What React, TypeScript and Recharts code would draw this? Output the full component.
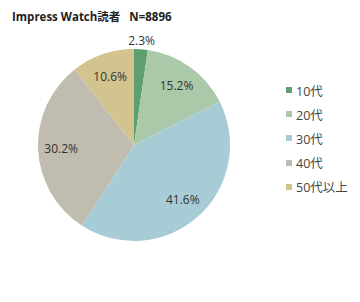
import React from 'react';
import { PieChart, Pie, Cell } from 'recharts';

const categories = ['10代', '20代', '30代', '40代', '50代以上'];
const shares = [2.3, 15.2, 41.6, 30.2, 10.6];
const colors = ['#5f9e6e', '#abc9a8', '#a8ccd6', '#c0bcb0', '#d3c48f'];

const data = categories.map((name, i) => ({ name, value: shares[i] }));

const RAD = Math.PI / 180;
const FONT = '"Open Sans", "Noto Sans CJK JP", sans-serif';

// percent labels: small slice sits outside, the rest inside
const renderLabel = ({ cx, cy, midAngle, outerRadius, index }: any) => {
  const r = shares[index] < 5 ? outerRadius + 9 : outerRadius * 0.76;
  const x = cx + r * Math.cos(-midAngle * RAD);
  const y = cy + r * Math.sin(-midAngle * RAD);
  return (
    <text
      x={x}
      y={y}
      fill="#333"
      fontSize={12}
      fontFamily={FONT}
      textAnchor="middle"
      dominantBaseline="central"
    >
      {`${shares[index].toFixed(1)}%`}
    </text>
  );
};

const LegendList = () => (
  <div style={{ fontFamily: FONT, fontSize: 12.5, color: '#444' }}>
    {categories.map((c, i) => (
      <div key={c} style={{ display: 'flex', alignItems: 'center', height: 24.2 }}>
        <span
          style={{
            display: 'inline-block',
            width: 6,
            height: 6,
            background: colors[i],
            marginRight: 4,
          }}
        />
        {c}
      </div>
    ))}
  </div>
);

export default function App() {
  return (
    <div
      style={{
        position: 'fixed',
        left: 0,
        top: 0,
        width: 360,
        height: 302,
        background: '#fff',
      }}
    >
      <div
        style={{
          position: 'absolute',
          left: 12,
          top: 8,
          fontFamily: FONT,
          fontWeight: 'bold',
          fontSize: 11.5,
          color: '#222',
          whiteSpace: 'pre',
        }}
      >
        {'Impress Watch読者   N=8896'}
      </div>
      <PieChart width={360} height={302} margin={{ top: 0, right: 0, bottom: 0, left: 0 }}>
        <Pie
          data={data}
          dataKey="value"
          nameKey="name"
          cx={134}
          cy={145}
          outerRadius={96}
          startAngle={90}
          endAngle={-270}
          stroke="none"
          label={renderLabel}
          labelLine={false}
          isAnimationActive={false}
        >
          {data.map((d, i) => (
            <Cell key={d.name} fill={colors[i]} />
          ))}
        </Pie>
      </PieChart>
      <div style={{ position: 'absolute', left: 286, top: 78, width: 74 }}>
        <LegendList />
      </div>
    </div>
  );
}
